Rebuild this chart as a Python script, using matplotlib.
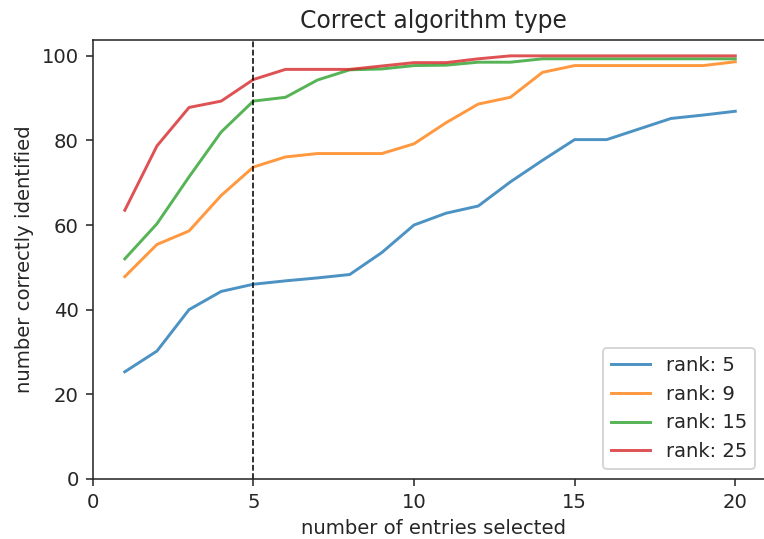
import matplotlib
matplotlib.use("Agg")
import matplotlib.pyplot as plt

entries = list(range(1, 21))

rank_5 = [25.3, 30.2, 40.0, 44.3, 46.0, 46.8, 47.5, 48.3, 53.5, 60.0,
          62.8, 64.5, 70.2, 75.3, 80.2, 80.2, 82.7, 85.2, 86.0, 86.9]
rank_9 = [47.8, 55.4, 58.6, 67.0, 73.7, 76.1, 76.9, 76.9, 76.9, 79.2,
          84.2, 88.6, 90.2, 96.1, 97.7, 97.7, 97.7, 97.7, 97.7, 98.6]
rank_15 = [52.0, 60.3, 71.4, 82.0, 89.3, 90.2, 94.3, 96.7, 96.9, 97.7,
           97.8, 98.5, 98.5, 99.3, 99.3, 99.3, 99.3, 99.3, 99.3, 99.3]
rank_25 = [63.5, 78.7, 87.8, 89.3, 94.4, 96.8, 96.8, 96.8, 97.6, 98.4,
           98.4, 99.3, 100.0, 100.0, 100.0, 100.0, 100.0, 100.0, 100.0, 100.0]

series = [("rank: 5", rank_5), ("rank: 9", rank_9),
          ("rank: 15", rank_15), ("rank: 25", rank_25)]
colors = ["#1f77b4", "#ff7f0e", "#2ca02c", "#d62728"]

text_color = "#262626"
plt.rcParams.update({
    "text.color": text_color,
    "axes.labelcolor": text_color,
    "xtick.color": text_color,
    "ytick.color": text_color,
    "axes.edgecolor": "#262626",
})

dpi = 141
fig = plt.figure(figsize=(764 / dpi, 539 / dpi), dpi=dpi)
# the plotting area runs past the right edge of the canvas
ax = fig.add_axes([0.1213, 0.1117, 0.8916, 0.8141])
ax.spines["right"].set_visible(False)

for (label, vals), c in zip(series, colors):
    ax.plot(entries, vals, color=c, alpha=0.8, lw=1.5, label=label)

ax.axvline(5, color="black", ls="--", lw=0.8)

ax.set_xlim(0, 21.2)
ax.set_ylim(0, 103.75)
ax.set_xticks([0, 5, 10, 15, 20])
ax.set_yticks([0, 20, 40, 60, 80, 100])
ax.set_title("Correct algorithm type")
ax.set_xlabel("number of entries selected")
ax.set_ylabel("number correctly identified")
ax.legend(loc="lower right", bbox_to_anchor=(764 / 774, 0))

fig.savefig("out.png", dpi=dpi)
